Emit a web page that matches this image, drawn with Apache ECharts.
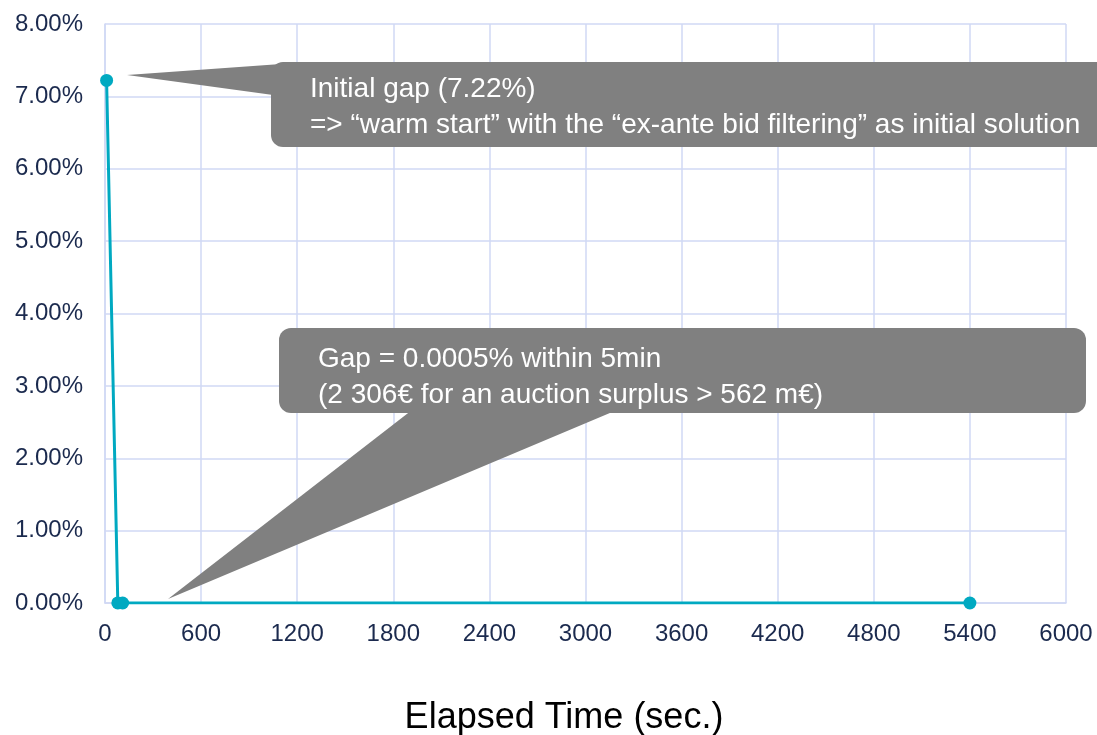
<!DOCTYPE html>
<html>
<head>
<meta charset="utf-8">
<script src="https://cdn.jsdelivr.net/npm/echarts@6/dist/echarts.min.js"></script>
<style>
  html, body { margin: 0; padding: 0; background: #ffffff; }
  #chart { width: 1097px; height: 735px; }
</style>
</head>
<body>
<div id="chart"></div>
<script>
// Optimality gap of the solver over elapsed time
const elapsedSec = [10, 80, 110, 5400];
const gapPct = [7.22, 0.0005, 0.0003, 0];
const xTicks = { min: 0, max: 6000, step: 600 };
const yTicks = { min: 0, max: 8, step: 1 };

const calloutTop = ['Initial gap (7.22%)', '=> \u201cwarm start\u201d with the \u201cex-ante bid filtering\u201d as initial solution'];
const calloutBottom = ['Gap = 0.0005% within 5min', '(2 306\u20ac for an auction surplus > 562 m\u20ac)'];

const FONT = '"Liberation Sans", Arial, sans-serif';
const GRID_COLOR = '#D0D8F4';
const LABEL_COLOR = '#1B2A4E';
const LINE_COLOR = '#00A9C1';
const BUBBLE = '#808080';

const chart = echarts.init(document.getElementById('chart'), null, { renderer: 'canvas' });

const points = elapsedSec.map((t, i) => [t, gapPct[i]]);

function bubbleText(lines, x, y) {
  return {
    type: 'text',
    x: x, y: y,
    z: 12,
    style: {
      text: lines.join('\n'),
      fill: '#ffffff',
      font: '28px ' + FONT,
      lineHeight: 36
    }
  };
}

chart.setOption({
  animation: false,
  grid: { left: 105, right: 31, top: 24, bottom: 132, containLabel: false },
  xAxis: {
    type: 'value',
    min: xTicks.min, max: xTicks.max, interval: xTicks.step,
    axisLine: { show: true, lineStyle: { color: GRID_COLOR, width: 1.5 } },
    axisTick: { show: false },
    splitLine: { show: true, lineStyle: { color: GRID_COLOR, width: 1.5 } },
    axisLabel: {
      color: LABEL_COLOR, fontSize: 24, fontFamily: FONT, margin: 19,
      formatter: v => String(v)
    }
  },
  yAxis: {
    type: 'value',
    min: yTicks.min, max: yTicks.max, interval: yTicks.step,
    axisLine: { show: true, lineStyle: { color: GRID_COLOR, width: 1.5 } },
    axisTick: { show: false },
    splitLine: { show: true, lineStyle: { color: GRID_COLOR, width: 1.5 } },
    axisLabel: {
      color: LABEL_COLOR, fontSize: 24, fontFamily: FONT, margin: 22,
      formatter: v => v.toFixed(2) + '%'
    }
  },
  series: [{
    type: 'line',
    data: points,
    symbol: 'circle',
    symbolSize: 13,
    lineStyle: { color: LINE_COLOR, width: 3 },
    itemStyle: { color: LINE_COLOR },
    z: 5
  }],
  graphic: [
    {
      type: 'text',
      x: 564, y: 718,
      style: {
        text: 'Elapsed Time (sec.)', fill: '#000000', font: '36px ' + FONT,
        textAlign: 'center', textVerticalAlign: 'middle'
      }
    },
    // callout: initial gap
    {
      type: 'polygon', z: 10,
      shape: { points: [[127, 75], [295, 63], [295, 98]] },
      style: { fill: BUBBLE }
    },
    {
      type: 'rect', z: 10,
      shape: { x: 271, y: 62, width: 850, height: 85, r: 12 },
      style: { fill: BUBBLE }
    },
    bubbleText(calloutTop, 310, 71),
    // callout: final gap
    {
      type: 'polygon', z: 10,
      shape: { points: [[168, 599], [412, 410], [617, 410]] },
      style: { fill: BUBBLE }
    },
    {
      type: 'rect', z: 10,
      shape: { x: 279, y: 328, width: 807, height: 85, r: 12 },
      style: { fill: BUBBLE }
    },
    bubbleText(calloutBottom, 318, 341)
  ]
});
</script>
</body>
</html>
